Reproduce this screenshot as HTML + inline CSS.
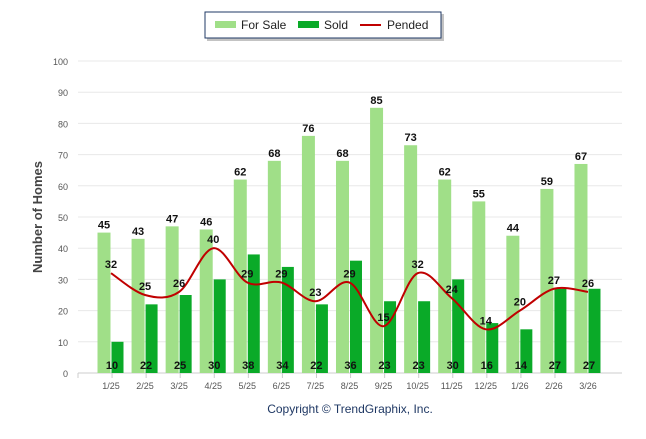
<!DOCTYPE html>
<html><head><meta charset="utf-8"><style>
body{margin:0;background:#fff;font-family:"Liberation Sans",Arial,sans-serif}
svg text{font-family:"Liberation Sans",Arial,sans-serif}
</style></head><body>
<svg id="chart" width="646" height="434" xmlns="http://www.w3.org/2000/svg">
<g>
<rect x="207" y="14" width="237" height="27" fill="#888" opacity="0.5"/>
<rect x="205" y="12" width="236" height="26" fill="#fff" stroke="#1f3864" stroke-width="1"/>
<rect x="215" y="21" width="21" height="7" fill="#a0df88"/>
<text x="241" y="29" font-size="12" fill="#222">For Sale</text>
<rect x="298" y="21" width="21" height="7" fill="#0aaa28"/>
<text x="324" y="29" font-size="12" fill="#222">Sold</text>
<rect x="360" y="24" width="21" height="2" fill="#c00000"/>
<text x="387" y="29" font-size="12" fill="#222">Pended</text>
</g>
<text transform="translate(42,217) rotate(-90)" text-anchor="middle" font-size="13" font-weight="bold" fill="#444">Number of Homes</text>
<text x="350" y="413" text-anchor="middle" font-size="12" fill="#1f3864">Copyright © TrendGraphix, Inc.</text>
<g id="grid"></g><g id="bars"></g><g id="line"></g><g id="labels"></g>
</svg>
<script>
const categories=["1/25","2/25","3/25","4/25","5/25","6/25","7/25","8/25","9/25","10/25","11/25","12/25","1/26","2/26","3/26"];
const forSale=[45,43,47,46,62,68,76,68,85,73,62,55,44,59,67];
const sold=[10,22,25,30,38,34,22,36,23,23,30,16,14,27,27];
const pended=[32,25,26,40,29,29,23,29,15,32,24,14,20,27,26];
const yTicks=[0,10,20,30,40,50,60,70,80,90,100];
const NS="http://www.w3.org/2000/svg";
const y=v=>373-v*3.12;
const x=i=>111+i*34.07;
function mk(t,a,p){const e=document.createElementNS(NS,t);for(const k in a)e.setAttribute(k,a[k]);p.appendChild(e);return e;}
const grid=document.getElementById('grid'),bars=document.getElementById('bars'),line=document.getElementById('line'),labels=document.getElementById('labels');
yTicks.forEach(t=>{
 const g=mk('line',{x1:78,x2:622,y1:y(t),y2:y(t),stroke:t===0?'#ccc':'#e8e8e8','stroke-width':1},grid);
 
 
 const l=mk('text',{x:68,y:y(t)+4,'text-anchor':'end','font-size':9,fill:'#555'},grid);l.textContent=t;
 
 
});
categories.forEach((c,i)=>{
 const tk=mk('line',{x1:x(i)-33,x2:x(i)-33,y1:373,y2:378,stroke:'#ccc'},grid);
 
 
 const t=mk('text',{x:x(i),y:389,'text-anchor':'middle','font-size':9,fill:'#555'},grid);t.textContent=c;
 
 
 const b1=mk('rect',{x:x(i)-13.5,y:y(forSale[i]),width:13,height:373-y(forSale[i]),fill:'#a0df88'},bars);
 
 
 const b2=mk('rect',{x:x(i)+0.5,y:y(sold[i]),width:12,height:373-y(sold[i]),fill:'#0aaa28'},bars);
 
 
 const l1=mk('text',{x:x(i)-7,y:y(forSale[i])-4,'text-anchor':'middle','font-size':11,'font-weight':'bold',fill:'#111'},labels);l1.textContent=forSale[i];
 
 
 const l2=mk('text',{x:x(i)+1,y:369,'text-anchor':'middle','font-size':11,'font-weight':'bold',fill:'#111'},labels);l2.textContent=sold[i];
 
 
 const l3=mk('text',{x:x(i),y:y(pended[i])-5,'text-anchor':'middle','font-size':11,'font-weight':'bold',fill:'#111'},labels);l3.textContent=pended[i];
 
 
});
const pts=pended.map((v,i)=>[x(i),y(v)]);
let d='M'+pts[0][0]+','+pts[0][1];
for(let i=0;i<pts.length-1;i++){
 const p0=pts[Math.max(0,i-1)],p1=pts[i],p2=pts[i+1],p3=pts[Math.min(pts.length-1,i+2)];
 const c1=[p1[0]+(p2[0]-p0[0])/6,p1[1]+(p2[1]-p0[1])/6],c2=[p2[0]-(p3[0]-p1[0])/6,p2[1]-(p3[1]-p1[1])/6];
 d+=' C'+c1+' '+c2+' '+p2;
}
const pl=mk('path',{d:d,fill:'none',stroke:'#c00000','stroke-width':2},line);


</script>
</body></html>
